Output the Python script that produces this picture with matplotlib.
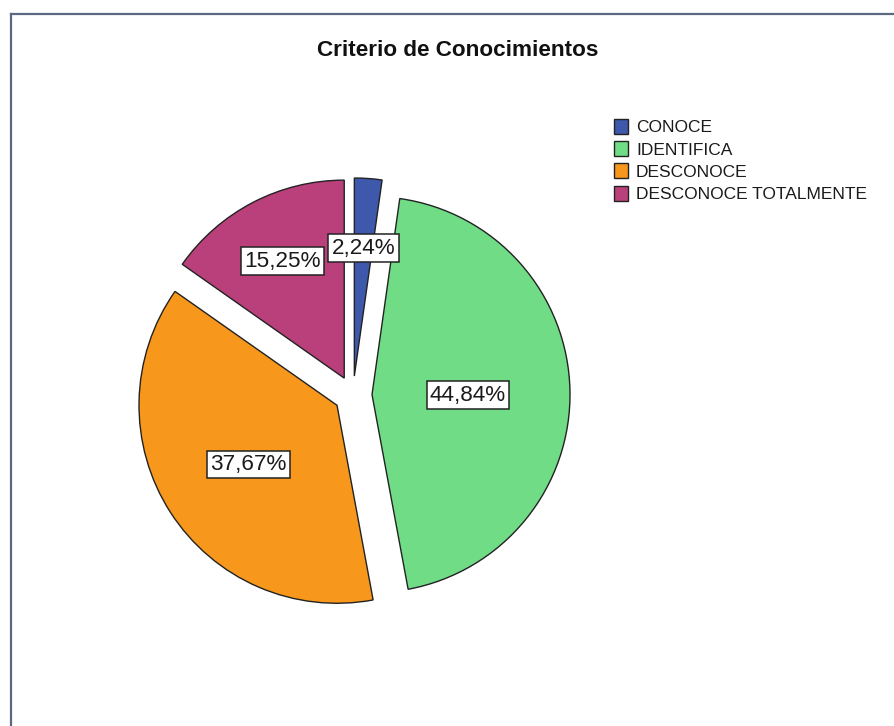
import matplotlib
matplotlib.use("Agg")
import matplotlib.pyplot as plt
from matplotlib.patches import Patch
from matplotlib.lines import Line2D
import numpy as np

plt.rcParams['font.family'] = ['Liberation Sans', 'DejaVu Sans']

# Criterio de Conocimientos (percent of answers)
categorias = ['CONOCE', 'IDENTIFICA', 'DESCONOCE', 'DESCONOCE TOTALMENTE']
porcentajes = [2.24, 44.84, 37.67, 15.25]
colores = ['#3e58ac', '#70dc86', '#f7981d', '#ba407c']

W, H = 894, 726
fig = plt.figure(figsize=(W / 100, H / 100), dpi=100)
fig.patch.set_facecolor('white')

# outer frame (left and top edges visible)
fig.add_artist(Line2D([10.5 / W, 10.5 / W], [0, 1 - 13.5 / H], transform=fig.transFigure,
                      color='#5b6880', lw=1.6))
fig.add_artist(Line2D([10.5 / W, 1], [1 - 13.5 / H, 1 - 13.5 / H], transform=fig.transFigure,
                      color='#5b6880', lw=1.6))

# pie axes: centre at (353, 395) px, radius 198 px
cx, cy, r_px, half = 353, 395, 198, 250
ax = fig.add_axes([(cx - half) / W, (H - cy - half) / H, 2 * half / W, 2 * half / H])
wedges, _ = ax.pie(porcentajes, colors=colores, startangle=90, counterclock=False,
                   explode=[0.096] * 4, radius=1,
                   wedgeprops=dict(edgecolor='#222222', linewidth=1.0))
lim = half / r_px
ax.set_xlim(-lim, lim)
ax.set_ylim(-lim, lim)
ax.set_aspect('equal')
ax.axis('off')

# value labels inside the slices
dist = [0.66, 0.485, 0.53, 0.68]
for w, v, d in zip(wedges, porcentajes, dist):
    ang = np.deg2rad((w.theta1 + w.theta2) / 2)
    x = w.center[0] + d * np.cos(ang)
    y = w.center[1] + d * np.sin(ang)
    ax.text(x, y, f"{v:.2f}%".replace('.', ','), ha='center', va='center_baseline',
            fontsize=16.2, color='#1a1a1a',
            bbox=dict(boxstyle='square,pad=0.15', fc='white', ec='#222222', lw=1.1))

fig.text(458 / W, 1 - 50 / H, 'Criterio de Conocimientos', ha='center', va='center',
         fontsize=16.2, fontweight='bold', color='#111111')

handles = [Patch(facecolor=c, edgecolor='#222222', linewidth=1.0) for c in colores]
fig.legend(handles, categorias, loc='upper left', bbox_to_anchor=(614 / W, 1 - 119 / H),
           frameon=False, fontsize=12.5, borderpad=0, borderaxespad=0,
           handlelength=0.82, handleheight=0.95, handletextpad=0.45,
           labelspacing=0.33, labelcolor='#1a1a1a')

fig.savefig('out.png', dpi=100)
